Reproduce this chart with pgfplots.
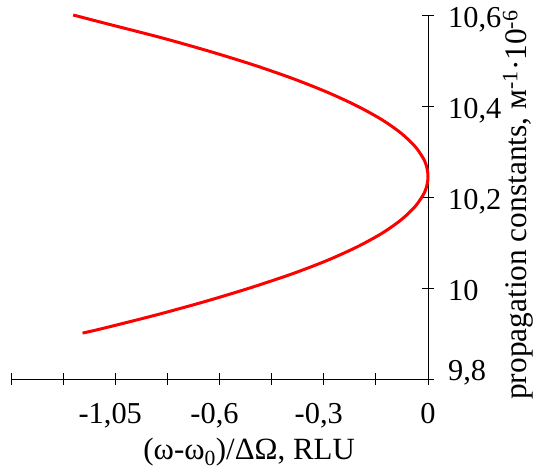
\documentclass[border=0pt]{standalone}
\usepackage{fontspec}
\setmainfont{Liberation Serif}
\usepackage{pgfplots}
\pgfplotsset{compat=1.18}
\begin{document}
\begin{tikzpicture}
\path[use as bounding box] (-11bp,-92bp) rectangle (522bp,379bp);
\begin{axis}[
  at={(0,0)}, anchor=south west,
  scale only axis, width=417bp, height=364bp,
  xmin=-1.2, xmax=0, ymin=9.8, ymax=10.6,
  axis x line=bottom, axis y line=right,
  axis line style={-, line width=0.8pt, black},
  xtick={-1.2,-1.05,-0.9,-0.75,-0.6,-0.45,-0.3,-0.15,0},
  xticklabels={{},{},{\hspace*{-10bp}-1,05},{},{\hspace*{-10bp}-0,6},{},{\hspace*{-10bp}-0,3},{},{0}},
  ytick={9.8,10,10.2,10.4,10.6},
  yticklabels={{\raisebox{11bp}{9,8}},{10},{10,2},{10,4},{10,6}},
  tick align=center, major tick length=12bp,
  tick style={black, line width=0.8pt},
  xticklabel style={anchor=base, inner sep=0pt, yshift=-38bp, font=\fontsize{30.5}{36}\selectfont},
  yticklabel style={anchor=base west, inner sep=0pt, xshift=14bp, yshift=-12bp, font=\fontsize{30.5}{36}\selectfont},
  every axis x label/.style={at={(axis description cs:0.571,-0.222)}, anchor=base, font=\fontsize{31}{36}\selectfont},
  every axis y label/.style={at={(axis description cs:1.216,0.478)}, rotate=90, anchor=center, font=\fontsize{31.5}{36}\selectfont},
  xlabel={(ω-ω\textsubscript{0})/ΔΩ, RLU},
  ylabel={propagation constants, м\textsuperscript{-1}·10\textsuperscript{-6}},
  clip=false,
]
\addplot[red, line width=3bp, smooth, tension=0.5] coordinates {
(-1.021,10.600) (-0.920,10.580) (-0.767,10.550) (-0.628,10.520) (-0.501,10.490)
(-0.388,10.460) (-0.289,10.430) (-0.204,10.400) (-0.133,10.370) (-0.077,10.340)
(-0.036,10.310) (-0.010,10.280) (-0.002,10.260) (0,10.245) (-0.002,10.230)
(-0.010,10.210) (-0.036,10.180) (-0.077,10.150) (-0.133,10.120) (-0.205,10.090)
(-0.292,10.060) (-0.395,10.030) (-0.513,10.000) (-0.643,9.970) (-0.786,9.940)
(-0.942,9.910) (-0.994,9.901)
};
\end{axis}
\end{tikzpicture}
\end{document}
